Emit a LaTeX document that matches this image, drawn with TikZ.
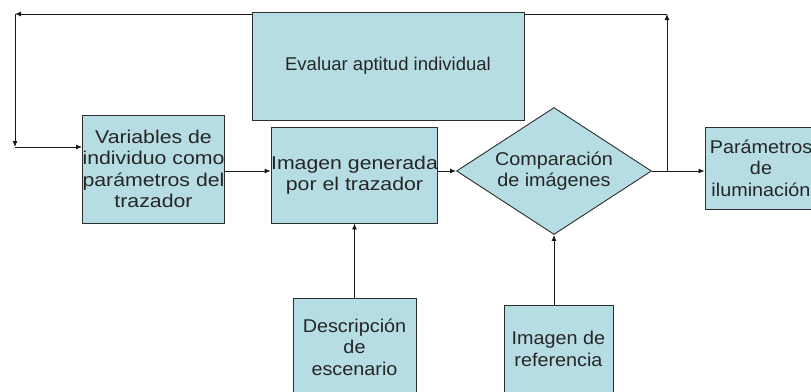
\documentclass[tikz,border=0pt]{standalone}
\usepackage{fontspec}
\setmainfont{Liberation Sans}
\newfontfamily\widefont[FakeStretch=1.15]{Liberation Sans}
\newfontfamily\midfont[FakeStretch=1.07]{Liberation Sans}
\usepackage{xcolor}
\usepackage{tikz}
\usetikzlibrary{shapes,calc}
\usetikzlibrary{shapes.geometric}
\usetikzlibrary{positioning}
\usetikzlibrary{arrows.meta}
\definecolor{boxfill}{RGB}{183,221,228}
\definecolor{boxline}{RGB}{45,45,45}

\begin{document}
\begin{tikzpicture}[x=1pt,y=-1pt,
	block/.style={draw=boxline,fill=boxfill,line width=0.9pt,rectangle,align=center,inner sep=0pt,font=\midfont\fontsize{18.5}{21.5}\selectfont,text=black!85},
	wide/.style={font=\widefont\fontsize{18.5}{21.5}\selectfont},
	narrow/.style={font=\fontsize{18.5}{21.5}\selectfont},
	link/.style={line width=0.9pt,draw=black!90,-{Latex[length=6pt,width=5pt]}},
	plain/.style={line width=0.9pt,draw=black!90}]
	
	\useasboundingbox (0,0) rectangle (811,391);
	
	% main row
	\node[block,wide,minimum width=141pt,minimum height=108pt] (var) at (153.5,169) {Variables de\\individuo como\\parámetros del\\trazador};
	\node[block,wide,minimum width=163pt,minimum height=96pt] (img) at (354.5,175) {Imagen generada\\por el trazador};
	\node[block,diamond,aspect=1.535,minimum width=195pt,minimum height=127pt] (cmp) at (554,171) {Comparación\\de imágenes};
	\node[block,minimum width=112pt,minimum height=82pt] (par) at (761,168) {Parámetros\\de\\iluminación};
	
	% feedback
	\node[block,narrow,minimum width=272pt,minimum height=108pt] (eval) at (388,66) {Evaluar aptitud individual};
	
	% inputs
	\node[block,minimum width=123pt,minimum height=98pt] (desc) at (354.5,347) {Descripción\\de\\escenario};
	\node[block,minimum width=109pt,minimum height=88pt] (ref) at (558.5,349) {Imagen de\\referencia};
	
	%corners of the loop
	\coordinate (tr) at (667,14);
	\coordinate (tl) at (15,14);
	\coordinate (bl) at (15,147);
	
	%connections
	\draw[link] (var.east |- cmp.west) -- (img.west |- cmp.west);
	\draw[link] (img.east |- cmp.west) -- (cmp.west);
	\draw[link] (cmp.east) -- (par.west |- cmp.east);
	\draw[link] (desc.north) -- (img.south);
	\draw[link] (ref.north -| cmp.south) -- (cmp.south);
	
	%loop
	\draw[link] (cmp.east -| tr) -- (tr);
	\draw[plain] (tr) -- (eval.east |- tr);
	\draw[link] (eval.west |- tl) -- (tl);
	\draw[link] (tl) -- (bl);
	\draw[link] (bl) -- (var.west |- bl);
	
\end{tikzpicture}
\end{document}
